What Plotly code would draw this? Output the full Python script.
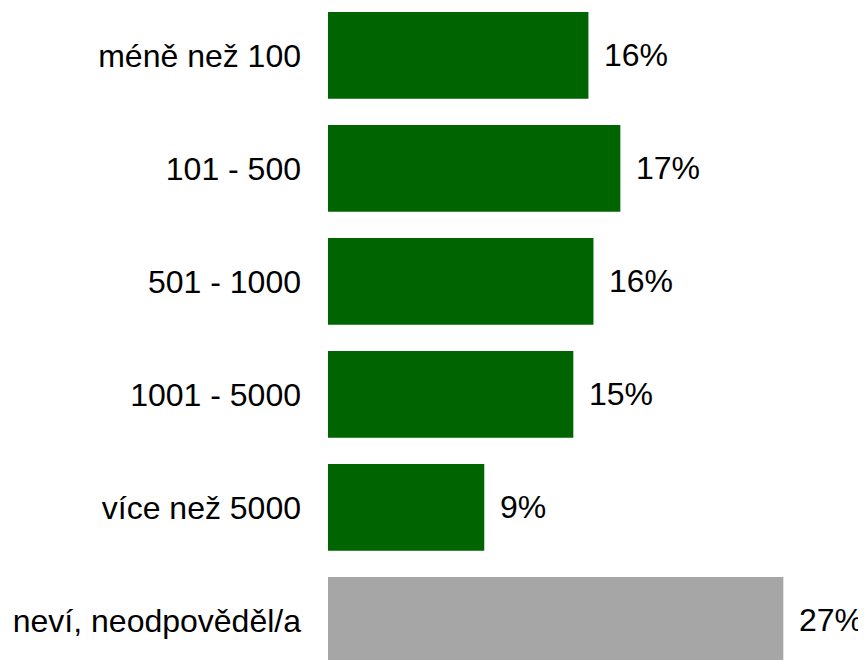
import plotly.graph_objects as go

categories = ["méně než 100", "101 - 500", "501 - 1000", "1001 - 5000", "více než 5000", "neví, neodpověděl/a"]
values = [15.5, 17.4, 15.8, 14.6, 9.3, 27.1]
labels = ["16%", "17%", "16%", "15%", "9%", "27%"]
colors = ["#006400", "#006400", "#006400", "#006400", "#006400", "#A6A6A6"]

FONT = "Liberation Sans, Arial, sans-serif"

fig = go.Figure()
fig.add_trace(go.Bar(
    x=values, y=categories, orientation="h",
    marker=dict(color=colors, line=dict(width=0)),
    hoverinfo="skip",
))

for c, v, t in zip(categories, values, labels):
    fig.add_annotation(x=v, y=c, text=t, xanchor="left", yanchor="middle",
                       xshift=14, showarrow=False,
                       font=dict(family=FONT, size=32, color="#000000"))

# page body has an 8px default margin; figure sized to fit the window
fig.update_layout(
    width=858, height=652,
    margin=dict(l=320, r=0, t=0, b=0, autoexpand=False),
    paper_bgcolor="white", plot_bgcolor="white",
    bargap=0.233,
    showlegend=False,
    xaxis=dict(range=[0, 32.02], visible=False, showgrid=False, zeroline=False,
               automargin=False),
    yaxis=dict(type="category", categoryorder="array", categoryarray=categories,
               range=[5.3505, -0.4195], showgrid=False, zeroline=False, showline=False,
               automargin=False, ticks="", ticklabelstandoff=26,
               tickfont=dict(family=FONT, size=32, color="#000000")),
)

fig.write_html("out.html")
